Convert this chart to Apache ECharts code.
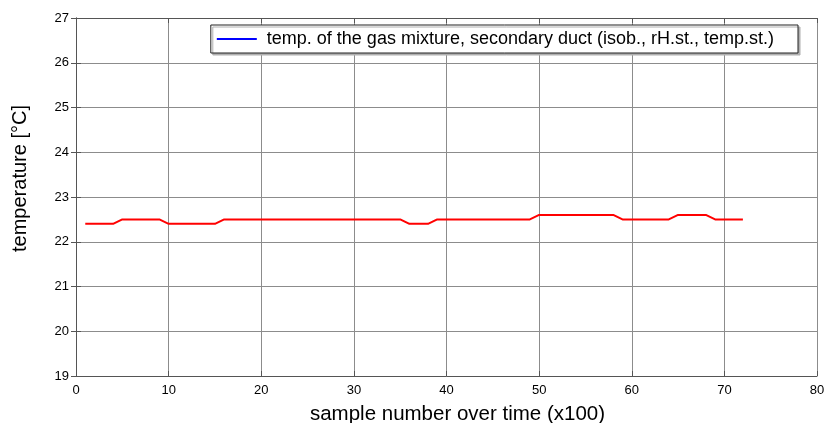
<!DOCTYPE html>
<html>
<head>
<meta charset="utf-8">
<script src="https://cdn.jsdelivr.net/npm/echarts@6/dist/echarts.min.js"></script>
<style>
  html, body { margin: 0; padding: 0; background: #fff; }
  #chart { width: 825px; height: 423px; }
</style>
</head>
<body>
<div id="chart"></div>
<script>
// sample numbers (x100)
const samples = [1, 2, 3, 4, 5, 6, 7, 8, 9, 10, 11, 12, 13, 14, 15, 16, 17, 18, 19, 20,
  21, 22, 23, 24, 25, 26, 27, 28, 29, 30, 31, 32, 33, 34, 35, 36, 37, 38, 39, 40,
  41, 42, 43, 44, 45, 46, 47, 48, 49, 50, 51, 52, 53, 54, 55, 56, 57, 58, 59, 60,
  61, 62, 63, 64, 65, 66, 67, 68, 69, 70, 71, 72];
const temps = [22.4, 22.4, 22.4, 22.4, 22.5, 22.5, 22.5, 22.5, 22.5, 22.4,
  22.4, 22.4, 22.4, 22.4, 22.4, 22.5, 22.5, 22.5, 22.5, 22.5,
  22.5, 22.5, 22.5, 22.5, 22.5, 22.5, 22.5, 22.5, 22.5, 22.5,
  22.5, 22.5, 22.5, 22.5, 22.5, 22.4, 22.4, 22.4, 22.5, 22.5,
  22.5, 22.5, 22.5, 22.5, 22.5, 22.5, 22.5, 22.5, 22.5, 22.6,
  22.6, 22.6, 22.6, 22.6, 22.6, 22.6, 22.6, 22.6, 22.5, 22.5,
  22.5, 22.5, 22.5, 22.5, 22.6, 22.6, 22.6, 22.6, 22.5, 22.5,
  22.5, 22.5];
const seriesName = "temp. of the gas mixture, secondary duct (isob., rH.st., temp.st.)";

const chart = echarts.init(document.getElementById("chart"));
const tickFont = { color: "#000", fontSize: 13, fontFamily: "Liberation Sans Narrow, Arial Narrow, sans-serif" };
const gridLine = { show: true, lineStyle: { color: "#8c8c8c", width: 1 } };
const axisCol = "#555";

chart.setOption({
  animation: false,
  grid: { left: 76, right: 8, top: 18, bottom: 47, containLabel: false, outerBoundsMode: "none" },
  legend: {
    right: 27,
    top: 25,
    backgroundColor: "#fff",
    borderColor: "#222",
    borderWidth: 1,
    borderRadius: 0,
    shadowColor: "#b0b0b0",
    shadowBlur: 0,
    shadowOffsetX: 2,
    shadowOffsetY: 2,
    padding: [5, 24, 5, 6],
    itemWidth: 40,
    itemHeight: 2,
    icon: "rect",
    textStyle: { fontSize: 18, color: "#000", fontFamily: "Liberation Sans, Arial, sans-serif", padding: [0, 0, 0, 5] },
    data: [{ name: seriesName, itemStyle: { color: "#0000ff" } }]
  },
  xAxis: [{
    type: "value",
    min: 0, max: 80, interval: 10,
    name: "sample number over time (x100)",
    nameLocation: "middle",
    nameGap: 28,
    nameTextStyle: { fontSize: 20.5, color: "#000", fontFamily: "Liberation Sans, Arial, sans-serif", padding: [0, 0, 0, 22] },
    axisLine: { onZero: false, lineStyle: { color: axisCol } },
    axisTick: { inside: true, length: 5, lineStyle: { color: axisCol } },
    axisLabel: Object.assign({ margin: 8 }, tickFont),
    splitLine: gridLine
  }, {
    type: "value",
    position: "top",
    min: 0, max: 80, interval: 10,
    axisLine: { show: true, lineStyle: { color: axisCol } },
    axisTick: { inside: true, length: 5, lineStyle: { color: axisCol } },
    axisLabel: { show: false },
    splitLine: { show: false }
  }],
  yAxis: [{
    type: "value",
    min: 19, max: 27, interval: 1,
    name: "temperature [°C]",
    nameLocation: "middle",
    nameGap: 46,
    nameTextStyle: { fontSize: 20, color: "#000", fontFamily: "Liberation Sans, Arial, sans-serif", padding: [0, 0, 0, 37] },
    axisLine: { show: true, lineStyle: { color: axisCol } },
    axisTick: { show: true, inside: true, length: 5, lineStyle: { color: axisCol } },
    axisLabel: Object.assign({ margin: 7 }, tickFont),
    splitLine: gridLine
  }, {
    type: "value",
    position: "right",
    min: 19, max: 27, interval: 1,
    axisLine: { show: true, lineStyle: { color: axisCol } },
    axisTick: { show: true, inside: true, length: 5, lineStyle: { color: axisCol } },
    axisLabel: { show: false },
    splitLine: { show: false }
  }],
  series: [{
    name: seriesName,
    type: "line",
    data: samples.map((s, i) => [s, temps[i]]),
    showSymbol: false,
    symbol: "none",
    lineStyle: { color: "#ff0000", width: 2 },
    itemStyle: { color: "#ff0000" }
  }]
});
</script>
</body>
</html>
